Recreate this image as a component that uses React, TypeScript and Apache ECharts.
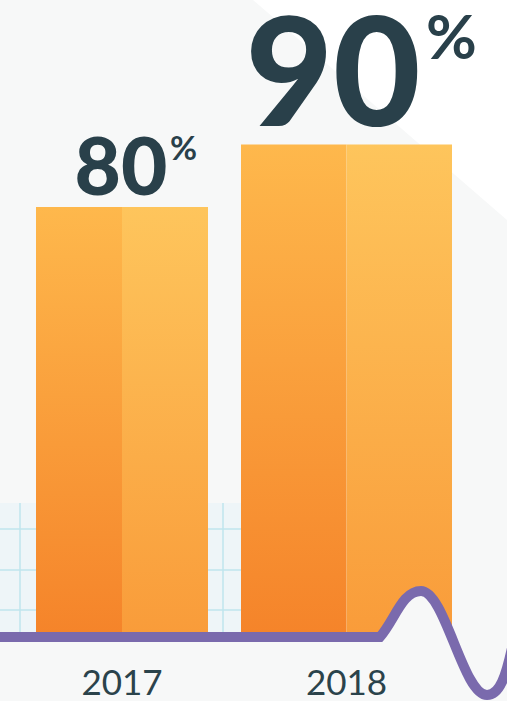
import React, { useEffect, useRef } from 'react';
import * as echarts from 'echarts';

// ---- data ----
const categories = ['2017', '2018'];
const values = [80, 90];
const unitSign = '%';

// ---- axis range ----
const Y_MIN = 12;
const Y_MAX = 100;

// ---- styling constants (sizes / offsets, not data) ----
const BAR_WIDTHS = [172, 211];
const VALUE_FONT = [80, 151];
const UNIT_FONT = [33, 62];
const VALUE_OFFSET = [[-1, -43], [-13.5, -77.5]];
const UNIT_OFFSET = [[61.5, -60.5], [105, -110]];
const TEXT_DARK = '#29404a';
const BG = '#f7f8f8';

const WAVE_D = 'M0 637 L380 637 C395 620 402 591 421 591 C445 591 463 695 487 695 C500 695 506 675 512 648';
const HUMP_D = 'M380 637 C395 620 402 591 421 591 C445 591 463 695 487 695 L487 637 Z';

echarts.graphic.registerShape('waveLine', echarts.graphic.extendPath(WAVE_D, {}));
echarts.graphic.registerShape('waveHump', echarts.graphic.extendPath(HUMP_D, {}));

const GRID_V = [20, 60.6, 101.2, 141.8, 182.4, 223];
const GRID_H = [529, 570, 610];

export default function App() {
  const ref = useRef<HTMLDivElement>(null);

  useEffect(() => {
    if (!ref.current) return;
    const chart = echarts.init(ref.current, null, { renderer: 'svg' });

    const leftGrad = () =>
      new echarts.graphic.LinearGradient(0, 0, 0, 1, [
        { offset: 0, color: '#feb84c' },
        { offset: 1, color: '#f5842a' },
      ]);
    const rightGrad = () =>
      new echarts.graphic.LinearGradient(0, 0, 0, 1, [
        { offset: 0, color: '#fec55c' },
        { offset: 1, color: '#f99c3a' },
      ]);

    const gridEls: any[] = [
      {
        type: 'rect',
        z: 0,
        shape: { x: 0, y: 503, width: 250, height: 129 },
        style: { fill: '#eef5f8' },
      },
    ];
    GRID_V.forEach((x) =>
      gridEls.push({
        type: 'line',
        z: 0,
        shape: { x1: x, y1: 503, x2: x, y2: 632 },
        style: { stroke: '#bfe5ee', lineWidth: 1.5 },
      })
    );
    GRID_H.forEach((y) =>
      gridEls.push({
        type: 'line',
        z: 0,
        shape: { x1: 0, y1: y, x2: 250, y2: y },
        style: { stroke: '#bfe5ee', lineWidth: 1.5 },
      })
    );

    chart.setOption({
      animation: false,
      backgroundColor: BG,
      graphic: [
        {
          type: 'polygon',
          z: 0,
          shape: { points: [[253, 0], [507, 0], [507, 220]] },
          style: { fill: '#ffffff' },
        },
        ...gridEls,
        {
          type: 'waveHump',
          z: 10,
          x: 0,
          y: 0,
          scaleX: 1,
          scaleY: 1,
          style: { fill: BG, stroke: 'none' },
        },
        {
          type: 'waveLine',
          z: 11,
          x: 0,
          y: 0,
          scaleX: 1,
          scaleY: 1,
          style: { fill: 'none', stroke: '#7a6aad', lineWidth: 10, lineCap: 'round' },
        },
      ],
      grid: {
        left: 9.75,
        right: 48.25,
        top: 82,
        bottom: 69,
        outerBoundsMode: 'none',
      },
      xAxis: {
        type: 'category',
        data: categories,
        axisLine: { show: false },
        axisTick: { show: false },
        splitLine: { show: false },
        axisLabel: {
          fontSize: 35,
          lineHeight: 36,
          fontFamily: 'Lato',
          color: '#2b434b',
          margin: 31,
        },
      },
      yAxis: {
        type: 'value',
        min: Y_MIN,
        max: Y_MAX,
        show: false,
      },
      series: [
        {
          type: 'custom',
          data: values.map((v, i) => [i, v]),
          renderItem: (params: any, api: any) => {
            const i = params.dataIndex;
            const v = api.value(1);
            const top = api.coord([i, v]);
            const base = api.coord([i, Y_MIN]);
            const w = BAR_WIDTHS[i];
            const cx = top[0];
            const h = base[1] - top[1];
            return {
              type: 'group',
              children: [
                {
                  type: 'rect',
                  shape: { x: cx - w / 2, y: top[1], width: w / 2, height: h },
                  style: { fill: leftGrad() },
                },
                {
                  type: 'rect',
                  shape: { x: cx, y: top[1], width: w / 2, height: h },
                  style: { fill: rightGrad() },
                },
                {
                  type: 'text',
                  x: cx + VALUE_OFFSET[i][0],
                  y: top[1] + VALUE_OFFSET[i][1],
                  style: {
                    text: String(v),
                    fontSize: VALUE_FONT[i],
                    lineHeight: Math.round(VALUE_FONT[i] * 0.76),
                    fontFamily: 'Lato',
                    fontWeight: 900,
                    fill: TEXT_DARK,
                    align: 'center',
                    verticalAlign: 'middle',
                  },
                },
                {
                  type: 'text',
                  x: cx + UNIT_OFFSET[i][0],
                  y: top[1] + UNIT_OFFSET[i][1],
                  style: {
                    text: unitSign,
                    fontSize: UNIT_FONT[i],
                    lineHeight: Math.round(UNIT_FONT[i] * 0.76),
                    fontFamily: 'Lato',
                    fontWeight: 700,
                    fill: TEXT_DARK,
                    align: 'center',
                    verticalAlign: 'middle',
                  },
                },
              ],
            };
          },
        },
      ],
    });

    return () => chart.dispose();
  }, []);

  return (
    <div
      ref={ref}
      style={{ position: 'fixed', left: 0, top: 0, width: 507, height: 701 }}
    />
  );
}
